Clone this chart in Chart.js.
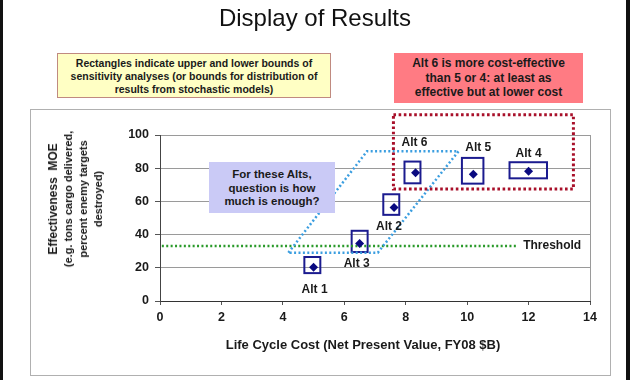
<!DOCTYPE html>
<html>
<head>
<meta charset="utf-8">
<script src="https://cdn.jsdelivr.net/npm/chart.js@4.4.1/dist/chart.umd.min.js"></script>
<style>
  html, body { margin: 0; padding: 0; background: #fff; }
  #wrap { position: relative; width: 630px; height: 380px; overflow: hidden; background: #fff;
          font-family: "Liberation Sans", Arial, sans-serif; color: #1a1a1a; }
  #c { position: absolute; left: 0; top: 0; }
  .abs { position: absolute; }
  .edgeL { left: 0; top: 0; width: 3px; height: 380px; background: #111; }
  .edgeR { left: 626px; top: 0; width: 4px; height: 380px; background: #111; }
  .frame { left: 30px; top: 109px; width: 579px; height: 265px; border: 1px solid #b0b0b0; }
  .title { left: 0; width: 630px; top: 4px; text-align: center; font-size: 24px; color: #111;
           font-family: "Liberation Sans", Arial, sans-serif; }
  .note { text-align: center; font-weight: bold; box-sizing: border-box; }
  .yellow { left: 57px; top: 53px; width: 274px; height: 45px; background: #ffffc4; border: 1px solid #c08a80;
            font-size: 10.5px; line-height: 13px; padding-top: 3px; }
  .red { left: 394px; top: 53px; width: 189px; height: 50px; background: #ff7b83;
         font-size: 12px; line-height: 14.7px; padding-top: 3px; }
  .callout { left: 209px; top: 162px; width: 126px; height: 51px; background: #cacaf6;
             font-size: 11.5px; line-height: 13.7px; padding-top: 6px; }
  .ytitle { left: 76px; top: 199px; transform: translate(-50%, -50%) rotate(-90deg); white-space: pre;
            text-align: center; font-weight: bold; font-size: 11px; line-height: 15px; }
  .ytitle .l1 { font-size: 12px; }
  .xtitle { left: 363px; top: 344px; transform: translate(-50%, -50%); white-space: nowrap;
            font-weight: bold; font-size: 13px; }
</style>
</head>
<body>
<div id="wrap">
  <div class="abs frame"></div>
  <canvas id="c" width="630" height="380"></canvas>
  <div class="abs edgeL"></div>
  <div class="abs edgeR"></div>
  <div class="abs title">Display of Results</div>
  <div class="abs note yellow">Rectangles indicate upper and lower bounds of<br>sensitivity analyses (or bounds for distribution of<br>results from stochastic models)</div>
  <div class="abs note red">Alt 6 is more cost-effective<br>than 5 or 4: at least as<br>effective but at lower cost</div>
  <div class="abs note callout">For these Alts,<br>question is how<br>much is enough?</div>
  <div class="abs ytitle"><span class="l1">Effectiveness  MOE</span>
(e.g. tons cargo delivered,
percent enemy targets
destroyed)</div>
  <div class="abs xtitle">Life Cycle Cost (Net Present Value, FY08 $B)</div>
</div>
<script>
// ---- data ----
const altNames   = ['Alt 1', 'Alt 2', 'Alt 3', 'Alt 4', 'Alt 5', 'Alt 6'];
const altCost    = [5.0, 7.62, 6.5, 12.0, 10.2, 8.32];
const altEffect  = [20.4, 56.3, 34.7, 78.2, 76.4, 77.2];
const costLow    = [4.70, 7.27, 6.24, 11.38, 9.83, 7.96];
const costHigh   = [5.22, 7.79, 6.76, 12.60, 10.53, 8.48];
const effLow     = [16.8, 51.9, 29.5, 73.9, 70.7, 70.9];
const effHigh    = [26.5, 64.3, 42.3, 83.6, 86.2, 84.0];
const thresholdValue = 33.1;
const thresholdFrom  = 0.06;
const thresholdTo    = 11.66;
const bandCost   = [4.18, 6.74, 9.72, 7.09, 4.18];
const bandEffect = [29.1, 90.2, 90.2, 29.1, 29.1];
const dominCost  = [7.60, 13.46, 13.46, 7.60, 7.60];
const dominEffect= [112.2, 112.2, 67.5, 67.5, 112.2];
const xTicks = [0, 2, 4, 6, 8, 10, 12, 14];
const yTicks = [0, 20, 40, 60, 80, 100];

// label placement (pixel offsets from each point), style only
const labelOffset = {
  'Alt 1': [1, 23], 'Alt 2': [-5, 19], 'Alt 3': [-3, 20],
  'Alt 4': [0, -18], 'Alt 5': [5, -26], 'Alt 6': [-1, -30]
};

const FONT = '"Liberation Sans", Arial, sans-serif';
const zip = (xs, ys) => xs.map((x, i) => ({ x, y: ys[i] }));

const boundsPlugin = {
  id: 'bounds',
  beforeDatasetsDraw(chart) {
    const { ctx, scales: { x, y } } = chart;
    ctx.save();
    ctx.strokeStyle = '#1b1b8f';
    ctx.lineWidth = 2;
    altNames.forEach((n, i) => {
      const l = x.getPixelForValue(costLow[i]), r = x.getPixelForValue(costHigh[i]);
      const t = y.getPixelForValue(effHigh[i]), b = y.getPixelForValue(effLow[i]);
      ctx.strokeRect(l, t, r - l, b - t);
    });
    ctx.restore();
  },
  afterDatasetsDraw(chart) {
    const { ctx, scales: { x, y } } = chart;
    ctx.save();
    ctx.fillStyle = '#1a1a1a';
    ctx.font = 'bold 12px ' + FONT;
    ctx.textAlign = 'center';
    ctx.textBaseline = 'middle';
    altNames.forEach((n, i) => {
      const o = labelOffset[n];
      ctx.fillText(n, x.getPixelForValue(altCost[i]) + o[0], y.getPixelForValue(altEffect[i]) + o[1]);
    });
    ctx.textAlign = 'left';
    ctx.fillText('Threshold', x.getPixelForValue(thresholdTo) + 5, y.getPixelForValue(thresholdValue));
    ctx.restore();
  }
};

new Chart(document.getElementById('c'), {
  type: 'scatter',
  data: {
    datasets: [
      { label: 'Alternatives', data: zip(altCost, altEffect), pointStyle: 'rectRot', pointRadius: 4.5,
        backgroundColor: '#0a0a80', borderColor: '#0a0a80', borderWidth: 0, order: 0 },
      { label: 'Threshold', data: [{ x: thresholdFrom, y: thresholdValue }, { x: thresholdTo, y: thresholdValue }],
        showLine: true, pointRadius: 0, borderColor: '#2a9a2a', borderWidth: 2.5, borderDash: [2, 2.4], order: 3 },
      { label: 'Band', data: zip(bandCost, bandEffect), showLine: true, pointRadius: 0,
        borderColor: '#3b9ee0', borderWidth: 2.5, borderDash: [2, 2.4], order: 2 },
      { label: 'Dominant', data: zip(dominCost, dominEffect), showLine: true, pointRadius: 0, clip: false,
        borderColor: '#a8102a', borderWidth: 3, borderDash: [2.6, 2.6], order: 1 }
    ]
  },
  options: {
    responsive: false,
    animation: false,
    events: [],
    layout: { padding: { left: 100, top: 135, right: 40, bottom: 39 } },
    plugins: { legend: { display: false }, tooltip: { enabled: false } },
    scales: {
      x: {
        type: 'linear', min: 0, max: 14,
        afterBuildTicks: s => { s.ticks = xTicks.map(v => ({ value: v })); },
        afterFit: s => { s.height = 40; s.paddingLeft = 0; s.paddingRight = 0; },
        ticks: { font: { family: FONT, size: 12.5, weight: 'bold' }, color: '#1a1a1a', padding: 5 },
        grid: { color: c => (c.tick && c.tick.value === 14) ? '#9a9a9a' : 'rgba(0,0,0,0)', tickColor: '#555',
                tickLength: 4, drawOnChartArea: true },
        border: { color: '#333', width: 1 }
      },
      y: {
        type: 'linear', min: 0, max: 100,
        afterBuildTicks: s => { s.ticks = yTicks.map(v => ({ value: v })); },
        afterFit: s => { s.width = 60; s.paddingTop = 0; s.paddingBottom = 0; },
        ticks: { font: { family: FONT, size: 12.5, weight: 'bold' }, color: '#1a1a1a', padding: 6 },
        grid: { color: '#9a9a9a', tickColor: '#555', tickLength: 5 },
        border: { color: '#444', width: 1 }
      }
    }
  },
  plugins: [boundsPlugin]
});
</script>
</body>
</html>
